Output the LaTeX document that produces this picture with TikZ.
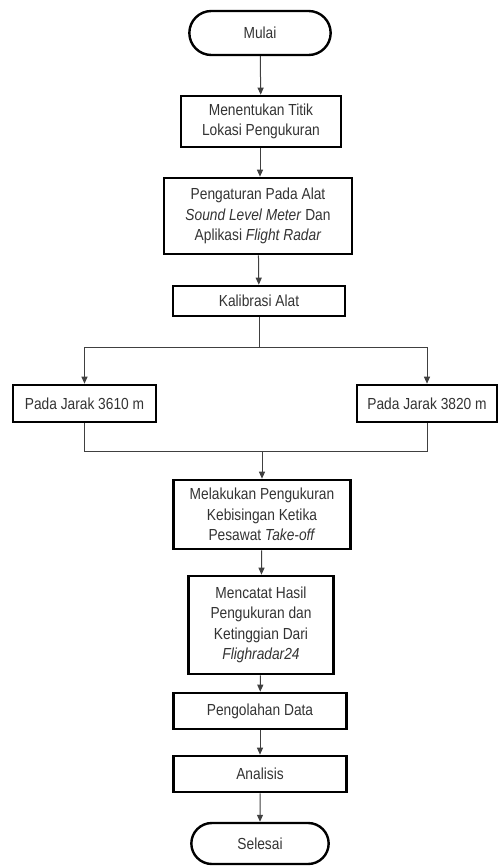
\documentclass[tikz,border=0pt]{standalone}
\usepackage{fontspec}
\setmainfont[FakeStretch=0.86]{Liberation Sans}
\usetikzlibrary{arrows.meta,shapes.misc}

\begin{document}
\begin{tikzpicture}[x=1pt,y=1pt,
        term/.style={draw, rounded rectangle, line width=2.4pt, align=center,
                     font=\fontsize{16}{20.5}\selectfont, text=black!80},
        proses/.style={draw, rectangle, line width=2.6pt, align=center, inner sep=2pt,
                       font=\fontsize{16}{20.5}\selectfont, text=black!80},
        line/.style={draw=black!75, line width=1pt},
        arrow/.style={line, -{Triangle[length=7pt,width=6pt]}}
    ]
        \useasboundingbox (0,0) rectangle (499,-867);

        \node[term, minimum width=148pt, minimum height=44pt] (mulai) at (260,-33) {Mulai};
        \node[proses, minimum width=160pt, minimum height=51pt] (lokasi) at (261,-121.5) {Menentukan Titik\\Lokasi Pengukuran};
        \node[proses, minimum width=188pt, minimum height=76pt] (atur) at (258,-216) {Pengaturan Pada Alat\\\textit{Sound Level Meter} Dan\\Aplikasi \textit{Flight Radar}};
        \node[proses, minimum width=172pt, minimum height=30pt] (kalibrasi) at (259,-301) {Kalibrasi Alat};
        \node[proses, minimum width=143pt, minimum height=37pt] (kiri) at (84.5,-403.5) {Pada Jarak 3610 m};
        \node[proses, minimum width=140pt, minimum height=37pt] (kanan) at (427,-403.5) {Pada Jarak 3820 m};
        \node[proses, minimum width=177pt, minimum height=69pt] (ukur) at (262,-514.5) {Melakukan Pengukuran\\Kebisingan Ketika\\Pesawat \textit{Take-off}};
        \node[proses, minimum width=145pt, minimum height=98pt] (catat) at (261,-625) {Mencatat Hasil\\Pengukuran dan\\Ketinggian Dari\\\textit{Flighradar24}};
        \node[proses, minimum width=173pt, minimum height=36pt] (olah) at (260,-711) {Pengolahan Data};
        \node[proses, minimum width=173pt, minimum height=36pt] (analisis) at (260,-774) {Analisis};
        \node[term, minimum width=144pt, minimum height=41pt] (selesai) at (260,-843.5) {Selesai};

        \coordinate (cabang) at (259,-347);
        \coordinate (gabung) at (262,-451);

        \draw[arrow] (mulai) -- (lokasi);
        \draw[arrow] (lokasi.south -| mulai) -- (atur.north -| mulai);
        \draw[arrow] (atur) -- (kalibrasi);
        \draw[line] (kalibrasi) -- (cabang);
        \draw[arrow] (cabang) -| (kiri);
        \draw[arrow] (cabang) -| (kanan);
        \draw[line] (kiri) |- (gabung);
        \draw[line] (kanan) |- (gabung);
        \draw[arrow] (gabung) -- (ukur);
        \draw[arrow] (ukur) -- (catat);
        \draw[arrow] (catat) -- (olah);
        \draw[arrow] (olah) -- (analisis);
        \draw[arrow] (analisis) -- (selesai);
    \end{tikzpicture}
\end{document}
